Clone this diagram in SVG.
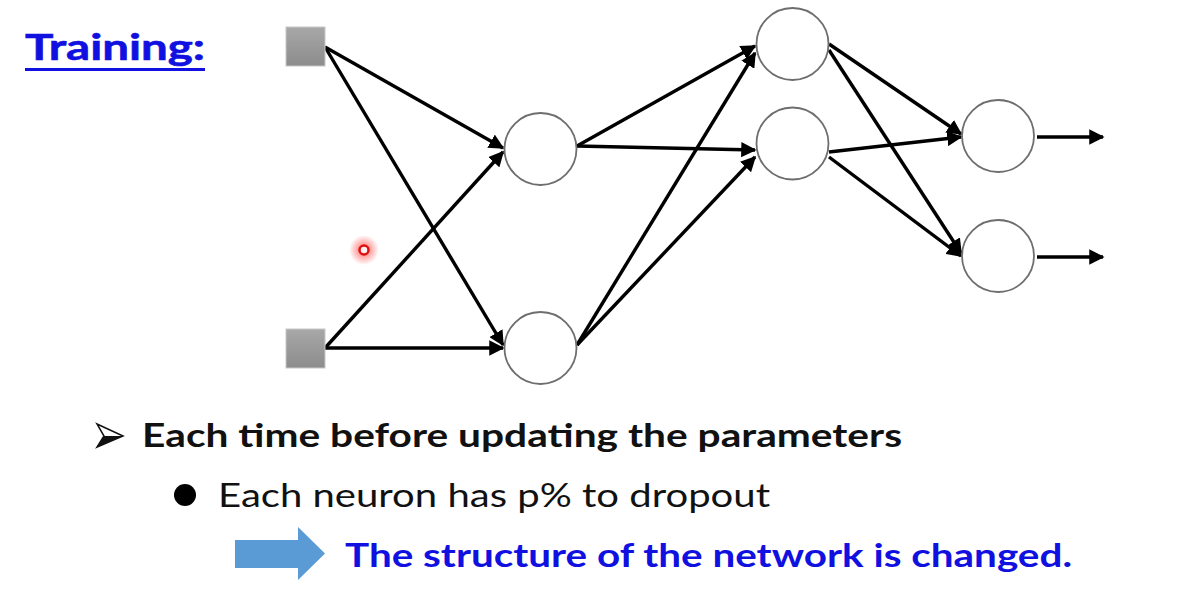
<svg xmlns="http://www.w3.org/2000/svg" width="1196" height="601" viewBox="0 0 1196 601">
  <style>
    .inp { fill: url(#gray); stroke: #c8c8c8; stroke-width: 1; }
    .neuron { fill: #ffffff; stroke: #6e6e6e; stroke-width: 1.8; }
    .edge { stroke: #000; stroke-width: 3.4; fill: none; marker-end: url(#ah); }
    .title { font-family: Lato, "Liberation Sans", sans-serif; font-weight: bold; fill: #1010e0; }
    .body { font-family: Lato, "Liberation Sans", sans-serif; fill: #111; }
  </style>
  <defs>
    <linearGradient id="gray" x1="0" y1="0" x2="0" y2="1">
      <stop offset="0" stop-color="#a8a8a8"/>
      <stop offset="1" stop-color="#8c8c8c"/>
    </linearGradient>
    <marker id="ah" viewBox="0 0 10 10" refX="9" refY="5" markerWidth="4.5" markerHeight="4.5" orient="auto" markerUnits="strokeWidth">
      <path d="M0,0 L10,5 L0,10 z" fill="#000"/>
    </marker>
    <radialGradient id="glow">
      <stop offset="0" stop-color="#ff3030" stop-opacity="0.75"/>
      <stop offset="1" stop-color="#ff3030" stop-opacity="0"/>
    </radialGradient>
  </defs>

  <rect width="1196" height="601" fill="#fff"/>

  <!-- heading -->
  <text class="title" x="25" y="60" font-size="37" stroke="#1010e0" stroke-width="0.6" textLength="180" lengthAdjust="spacingAndGlyphs">Training:</text>
  <rect x="25" y="68" width="180" height="3" fill="#1010e0"/>

  <!-- connectors -->
  <g id="connectors">
    <line class="edge" x1="325" y1="47" x2="503" y2="148"/>
    <line class="edge" x1="325" y1="47" x2="503" y2="345"/>
    <line class="edge" x1="325" y1="348" x2="503" y2="152"/>
    <line class="edge" x1="325" y1="348" x2="503" y2="348"/>

    <line class="edge" x1="577" y1="146" x2="755" y2="46"/>
    <line class="edge" x1="577" y1="146" x2="755" y2="150"/>
    <line class="edge" x1="577" y1="345" x2="755" y2="53"/>
    <line class="edge" x1="577" y1="345" x2="755" y2="157"/>

    <line class="edge" x1="829" y1="44" x2="961" y2="134"/>
    <line class="edge" x1="829" y1="50" x2="961" y2="253"/>
    <line class="edge" x1="829" y1="152" x2="961" y2="137"/>
    <line class="edge" x1="829" y1="157" x2="961" y2="256"/>

    <line class="edge" x1="1037" y1="137" x2="1103" y2="137"/>
    <line class="edge" x1="1037" y1="257" x2="1103" y2="257"/>
  </g>

  <!-- input units -->
  <g id="in1"><rect class="inp" x="286" y="27" width="39" height="39"/></g>
  <g id="in2"><rect class="inp" x="286" y="329" width="39" height="39"/></g>

  <!-- first hidden layer -->
  <g id="h1a"><circle class="neuron" cx="540.5" cy="149" r="36"/></g>
  <g id="h1b"><circle class="neuron" cx="540.5" cy="348" r="36"/></g>

  <!-- second hidden layer -->
  <g id="h2a"><circle class="neuron" cx="792.5" cy="44" r="36"/></g>
  <g id="h2b"><circle class="neuron" cx="792.5" cy="143.5" r="36"/></g>

  <!-- output layer -->
  <g id="o1"><circle class="neuron" cx="998" cy="136" r="36"/></g>
  <g id="o2"><circle class="neuron" cx="998" cy="256" r="36"/></g>

  <!-- pointer spot -->
  <circle cx="364" cy="250" r="15" fill="url(#glow)"/>
  <circle cx="364" cy="250" r="4.5" fill="#fff0f0" stroke="#e01010" stroke-width="2.5"/>

  <!-- bullet list -->
  <path d="M97,424 L123,436 L97,447 L104,436 z" fill="#fff" stroke="#111" stroke-width="1.5"/>
  <path d="M97,447 L123,436 L104,436 z" fill="#111"/>
  <text class="body" x="142" y="447" font-size="33" font-weight="bold" textLength="760" lengthAdjust="spacingAndGlyphs">Each time before updating the parameters</text>

  <circle cx="185" cy="495" r="11" fill="#000"/>
  <text class="body" x="218" y="507" font-size="33" textLength="552" lengthAdjust="spacingAndGlyphs">Each neuron has p% to dropout</text>

  <path d="M235,540 L298,540 L298,527 L325,553.5 L298,580 L298,568 L235,568 z" fill="#5b9bd5"/>
  <text class="title" x="345" y="567" font-size="33" textLength="727" lengthAdjust="spacingAndGlyphs">The structure of the network is changed.</text>
</svg>
